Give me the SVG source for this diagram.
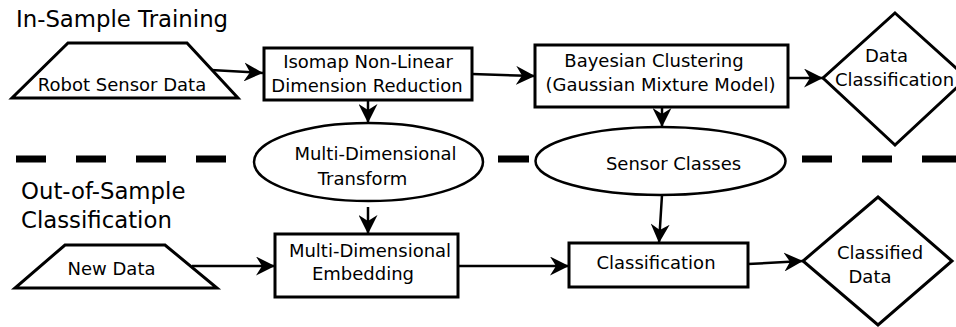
<svg xmlns="http://www.w3.org/2000/svg" width="956" height="327" viewBox="0 0 956 327">
<style>
text { font-family: "DejaVu Sans", "Liberation Sans", sans-serif; fill: #000; }
.lbl { font-size: 18px; text-anchor: middle; }
.ttl { font-size: 22.8px; }
.shape { fill: #fff; stroke: #000; stroke-width: 3; stroke-linejoin: miter; }
.ell { fill: #fff; stroke: #000; stroke-width: 2.5; }
.conn { fill: none; stroke: #000; stroke-width: 2.5; marker-end: url(#ah); }
</style>
<defs>
<marker id="ah" markerUnits="userSpaceOnUse" viewBox="0 0 19 19" refX="19" refY="9.5" markerWidth="19" markerHeight="19" orient="auto">
<path d="M0,0 L19,9.5 L0,19 L6,9.5 Z" fill="#000"/>
</marker>
</defs>
<rect width="956" height="327" fill="#fff"/>
<text class="ttl" x="16" y="27">In-Sample Training</text>
<text class="ttl" x="21" y="199">Out-of-Sample</text>
<text class="ttl" x="21" y="228">Classification</text>
<path d="M16 159H46M76 159H106M136 159H166M196 159H226M498 159H529M802 159H832M862 159H892M922 159H956" stroke="#000" stroke-width="7" fill="none"/>
<g id="connectors">
<path class="conn" d="M211 70 L263 73"/>
<path class="conn" d="M472 74 L535 76"/>
<path class="conn" d="M788 78 L823 78"/>
<path class="conn" d="M368 100 L368 123"/>
<path class="conn" d="M662 107 L662 127"/>
<path class="conn" d="M368 207 L368 234"/>
<path class="conn" d="M662 195 L659 243"/>
<path class="conn" d="M192 266 L275 266"/>
<path class="conn" d="M458 266 L569 266"/>
<path class="conn" d="M748 264 L803 261"/>
</g>
<g id="robot-sensor-data">
<polygon class="shape" points="68,43 187,43 238,98 12,98"/>
<text class="lbl" x="122" y="91">Robot Sensor Data</text>
</g>
<g id="isomap">
<rect class="shape" x="264" y="48" width="208" height="52"/>
<text class="lbl" x="368" y="68">Isomap Non-Linear</text>
<text class="lbl" x="367" y="92">Dimension Reduction</text>
</g>
<g id="bayesian">
<rect class="shape" x="535" y="45" width="253" height="62"/>
<text class="lbl" x="654" y="67">Bayesian Clustering</text>
<text class="lbl" x="660.5" y="91">(Gaussian Mixture Model)</text>
</g>
<g id="data-classification">
<polygon class="shape" points="895,13 967,78 895,145 823,78"/>
<text class="lbl" x="886.5" y="62">Data</text>
<text class="lbl" x="894.5" y="86">Classification</text>
</g>
<g id="md-transform">
<ellipse class="ell" cx="368.5" cy="162" rx="114.5" ry="39"/>
<text class="lbl" x="375.5" y="160">Multi-Dimensional</text>
<text class="lbl" x="362.5" y="185">Transform</text>
</g>
<g id="sensor-classes">
<ellipse class="ell" cx="660.5" cy="161" rx="125" ry="34"/>
<text class="lbl" x="673.5" y="170">Sensor Classes</text>
</g>
<g id="new-data">
<polygon class="shape" points="65,245 165,245 217,288 15,288"/>
<text class="lbl" x="111.5" y="275">New Data</text>
</g>
<g id="md-embedding">
<rect class="shape" x="275" y="234" width="183" height="63"/>
<text class="lbl" x="370" y="257">Multi-Dimensional</text>
<text class="lbl" x="363" y="280">Embedding</text>
</g>
<g id="classification">
<rect class="shape" x="569" y="243" width="179" height="44"/>
<text class="lbl" x="656" y="269">Classification</text>
</g>
<g id="classified-data">
<polygon class="shape" points="878,197 952,261 878,325 803,261"/>
<text class="lbl" x="880" y="259">Classified</text>
<text class="lbl" x="870" y="283">Data</text>
</g>
</svg>
